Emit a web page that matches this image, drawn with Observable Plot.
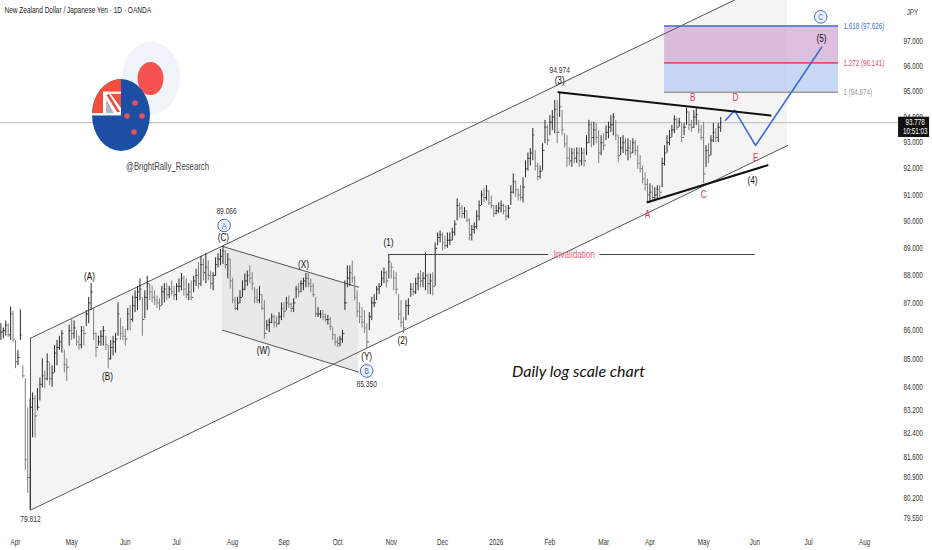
<!DOCTYPE html>
<html>
<head>
<meta charset="utf-8">
<script src="https://cdn.jsdelivr.net/npm/d3@7"></script>
<script src="https://cdn.jsdelivr.net/npm/@observablehq/plot@0.6"></script>
<style>html,body{margin:0;padding:0;background:#fff}svg{display:block}</style>
</head>
<body>
<div id="chart"></div>
<script>
const firstSession = -6;
const highs = [86.25,86.1,86.35,86.25,86.85,86.7,85.65,85.3,86.75,84.75,84.3,83.27,83.6,83.8,83.7,83.95,84.32,85.0,84.57,85.17,84.85,84.75,85.47,85.65,85.8,86.0,85.3,85.0,86.2,86.45,86.35,86.0,85.8,86.15,86.15,86.72,87.2,87.7,86.8,85.92,85.8,86.0,86.15,85.8,85.47,85.65,85.8,85.9,87.0,86.45,86.15,86.05,86.8,86.9,87.25,87.44,87.6,87.87,87.2,87.44,87.97,87.68,87.6,87.44,87.25,87.15,87.6,87.7,87.7,87.6,87.8,87.6,87.7,87.87,88.07,87.97,87.87,87.7,87.8,87.97,88.23,88.45,88.7,88.6,88.8,88.53,88.16,88.1,88.65,88.8,88.96,89.07,88.9,88.8,88.6,87.9,87.2,87.2,87.44,87.8,88.05,88.16,88.35,88.1,87.55,87.5,87.6,87.3,87.08,86.36,86.43,86.6,86.55,86.5,86.65,87.0,87.0,87.2,87.25,87.0,87.15,87.6,87.7,87.8,87.9,88.07,88.07,87.87,87.7,87.2,86.83,86.72,86.72,86.6,86.55,86.47,86.1,85.87,85.75,85.8,86.0,87.8,88.35,88.35,88.53,87.97,87.44,87.0,86.83,86.72,86.25,86.65,87.2,87.3,87.6,87.7,88.16,88.27,88.16,88.77,88.45,88.16,88.1,87.3,87.08,86.47,87.08,87.15,87.7,87.7,87.9,88.07,88.16,88.1,88.83,88.05,88.05,88.1,89.2,89.57,89.64,89.57,89.45,89.57,89.57,89.75,90.02,90.85,90.7,90.6,90.52,90.4,90.1,89.85,89.95,90.4,90.77,91.15,91.25,91.35,91.15,90.95,90.6,90.6,90.7,90.77,90.65,90.6,90.6,91.35,91.8,91.53,91.22,91.35,91.65,92.3,92.6,92.77,93.55,92.69,92.2,92.1,92.96,93.87,93.67,94.05,94.25,94.65,94.65,94.97,94.25,93.35,93.27,92.8,92.77,92.77,92.8,92.8,92.8,92.77,93.27,93.87,93.8,93.8,93.75,93.47,93.27,93.35,93.65,93.8,94.05,94.13,93.87,93.27,93.2,93.27,93.15,93.15,93.08,93.15,93.08,92.88,92.5,92.1,91.84,91.6,91.42,91.35,91.27,91.35,91.35,92.4,92.88,93.27,93.47,93.67,94.05,93.95,93.95,93.75,93.75,94.35,94.2,93.87,94.25,94.35,93.87,93.67,93.8,92.88,92.96,93.27,93.75,93.55,93.75,93.98];
const lows = [85.65,85.7,85.8,85.75,85.65,85.6,84.65,84.75,85.65,84.3,81.13,80.37,79.81,82.25,82.25,83.17,83.52,83.97,83.95,84.22,84.05,84.0,84.5,84.75,85.3,85.2,84.5,84.2,85.45,85.65,85.7,85.45,85.3,85.35,85.45,86.15,86.25,86.72,85.65,85.05,85.45,85.45,85.45,85.3,84.65,84.95,85.1,85.2,85.8,85.65,85.65,85.45,86.0,86.0,86.3,86.65,86.72,87.08,85.8,86.43,86.72,87.08,87.0,86.9,86.8,86.72,86.9,87.0,87.08,87.15,87.25,87.08,87.08,87.37,87.44,87.25,87.15,87.08,87.08,87.37,87.6,87.5,87.6,87.8,87.7,87.8,87.5,87.44,87.97,88.27,88.35,88.4,88.23,87.87,87.5,86.97,86.72,86.72,86.97,87.2,87.44,87.6,87.7,87.44,86.97,86.97,86.97,86.72,85.7,86.0,85.93,86.25,86.1,86.1,86.2,86.36,86.45,86.72,86.8,86.65,86.65,87.15,87.2,87.37,87.44,87.55,87.55,87.37,87.2,86.47,86.47,86.43,86.36,86.3,86.2,86.0,85.65,85.45,85.4,85.42,85.55,86.72,87.55,87.6,87.7,87.08,86.47,86.25,86.1,85.9,85.35,86.0,86.36,86.83,87.08,87.3,87.6,87.7,87.55,87.87,87.87,87.44,87.3,86.36,86.1,85.9,86.36,86.55,87.2,87.25,87.3,87.44,87.55,87.55,87.44,87.3,87.3,87.25,87.6,89.1,89.2,88.9,88.95,89.0,89.1,89.27,89.45,90.02,90.13,90.1,90.1,89.95,89.27,89.27,89.53,89.7,90.02,90.6,90.7,90.77,90.6,90.47,90.15,90.25,90.3,90.32,90.25,90.02,90.1,90.6,91.03,90.9,90.77,90.77,90.7,91.65,91.9,92.1,92.3,91.91,91.53,91.6,91.91,92.96,92.88,93.27,93.47,93.35,92.96,93.98,93.27,92.8,92.05,92.1,92.05,92.2,92.2,92.05,92.1,92.05,92.5,92.96,92.8,92.88,92.96,92.2,92.5,92.69,93.08,93.15,93.4,93.27,93.08,92.22,92.5,92.58,92.5,92.3,92.4,92.58,92.5,91.98,91.84,91.42,91.15,90.67,90.7,90.77,90.77,90.85,90.9,91.27,92.1,92.6,92.88,93.2,93.35,93.47,93.6,93.0,93.27,93.67,93.47,93.4,93.55,93.67,93.35,93.08,91.42,92.05,92.2,92.5,93.0,93.0,93.0,93.4];
const closes = [85.95,86.0,86.2,85.85,86.6,85.7,84.9,85.05,85.85,84.4,81.5,80.9,83.3,83.6,83.0,83.3,84.1,84.4,84.3,84.9,84.3,84.5,85.2,85.4,85.6,85.9,84.8,84.7,86.0,85.9,86.1,85.6,85.5,86.0,85.9,86.6,87.0,87.4,85.9,85.4,85.6,85.8,86.0,85.5,85.0,85.4,85.6,85.7,86.6,85.9,85.8,85.7,86.6,86.4,86.9,87.2,87.4,87.5,86.4,87.2,87.7,87.4,87.2,87.1,87.0,86.9,87.4,87.5,87.3,87.5,87.4,87.3,87.6,87.6,87.9,87.5,87.3,87.4,87.2,87.8,88.0,87.7,88.4,88.1,88.3,88.0,87.7,88.0,88.4,88.6,88.7,88.9,88.4,88.6,87.8,87.1,86.8,87.0,87.2,87.5,87.8,88.0,87.9,87.7,87.2,87.1,87.3,86.8,85.9,86.2,86.3,86.5,86.3,86.25,86.5,86.8,86.7,87.0,86.95,86.8,87.0,87.5,87.4,87.7,87.8,87.9,87.7,87.6,87.3,86.6,86.6,86.6,86.5,86.4,86.4,86.15,85.85,85.6,85.55,85.7,85.9,87.0,87.9,88.1,87.9,87.2,86.7,86.5,86.3,86.1,85.6,86.5,87.0,87.0,87.5,87.6,87.9,88.1,87.8,88.5,88.3,87.9,87.5,86.6,86.3,86.1,86.9,86.9,87.5,87.4,87.7,87.9,87.8,87.9,88.0,87.7,87.8,87.6,89.0,89.4,89.5,89.2,89.1,89.3,89.3,89.6,89.9,90.6,90.5,90.3,90.4,90.05,89.5,89.7,89.8,90.2,90.6,91.0,90.9,91.15,90.7,90.6,90.3,90.4,90.5,90.6,90.4,90.2,90.5,91.1,91.5,91.2,91.0,90.9,91.3,92.0,92.4,92.6,93.3,92.1,91.7,91.9,92.7,93.6,93.1,93.8,94.0,94.3,93.4,94.4,93.5,92.95,92.4,92.3,92.6,92.4,92.6,92.3,92.6,92.3,93.0,93.7,93.2,93.5,93.2,92.6,93.0,92.9,93.4,93.6,93.7,94.0,93.3,92.5,92.8,93.0,92.7,92.8,92.6,93.0,92.7,92.2,92.0,91.6,91.4,91.0,91.1,90.9,91.0,91.2,91.1,92.2,92.6,93.0,93.2,93.5,93.9,93.6,93.8,93.2,93.6,94.2,93.7,93.6,94.0,94.1,93.5,93.2,91.8,92.7,92.5,93.1,93.4,93.2,93.6,93.778];

const monthNames = ["Apr","May","Jun","Jul","Aug","Sep","Oct","Nov","Dec","2026","Feb","Mar","Apr","May","Jun","Jul","Aug"];
const monthSessions = [0,23,45,66,89,110,132,154,175,197,219,241,260,282,303,325,348];
const priceTicks = [97,96,95,94,93,92,91,90,89,88,87,86,85,84,83.2,82.4,81.6,80.9,80.2,79.55];

const channelSessions = [6.15,316.4];
const channelUpper = [85.73,99.74];
const channelLower = [79.81,92.89];
const corrSessions = [84.8,140.6];
const corrUpper = [89.07,87.57];
const corrLower = [86.02,84.53];
const invalidPrice = 88.77;
const invalidSegments = [[153,218.5],[239.5,303.2]];
const fibSessions = [266,337.3];
const fibLevels = [97.626,96.141,94.974];
const fibNames = ["1.618 (97.626)","1.272 (96.141)","1 (94.974)"];
const fibColors = ["#3f6fd6","#e0506a","#9a9a9a"];
const zigSessions = [291,294.7,303.3,330.3];
const zigPrices = [93.87,94.26,92.89,96.76];
const topLineS = [222.5,309.4], topLineP = [94.974,94.06];
const botLineS = [259,308.2], botLineP = [90.72,92.13];
const lastPrice = 93.778;

const blackLabels = ["(A)","(B)","(C)","(W)","(X)","(Y)","(1)","(2)","(3)","(4)","(5)"];
const blackS = [30.3,37.7,85.2,101.6,118,143.9,152.9,158.6,223,302,330.3];
const blackP = [87.97,84.36,89.42,85.3,88.4,85.07,89.2,85.65,95.44,91.53,97.12];
const valueLabels = ["79.812","89.066","85.350","94.974"];
const valueS = [6.15,86.5,143.9,223];
const valueP = [79.51,90.4,84.1,95.84];
const redLabels = ["A","B","C","D","E"];
const redS = [259,277.5,282,295,303.3];
const redP = [90.28,94.77,91.0,94.77,92.42];
const circleLabels = ["A","B","C"];
const circleS = [85.5,143.9,330];
const circleP = [89.85,84.57,98.0];

const SANS = "'Liberation Sans',sans-serif";
const bars = highs.map((h,i)=>({s:firstSession+i,h,l:lows[i],c:closes[i],o:i?closes[i-1]:closes[0]}));
const barColor = d => d.c>=d.o ? "#2a2a2a" : "#7f7f7f";
const rows = (...cols)=>cols[0].map((_,i)=>cols.map(c=>c[i]));

function logo(){
  const g = d3.create("svg:g");
  const defs = g.append("defs");
  defs.append("clipPath").attr("id","nzclip").append("ellipse").attr("cx",121).attr("cy",115).attr("rx",29).attr("ry",36);
  g.append("ellipse").attr("cx",151).attr("cy",78).attr("rx",29).attr("ry",36.5).attr("fill","#f0f3fa");
  g.append("ellipse").attr("cx",150.5).attr("cy",78.5).attr("rx",13).attr("ry",16.5).attr("fill","#f55250");
  const nz = g.append("g").attr("clip-path","url(#nzclip)");
  nz.append("rect").attr("x",90).attr("y",77).attr("width",62).attr("height",76).attr("fill","#1c4ea3");
  nz.append("rect").attr("x",90).attr("y",77).attr("width",31).attr("height",38).attr("fill","#f0503c");
  nz.append("rect").attr("x",90).attr("y",113).attr("width",31).attr("height",2.5).attr("fill","#f4f4f4");
  nz.append("rect").attr("x",103).attr("y",91.5).attr("width",18).attr("height",2.5).attr("fill","#fbe6e0");
  nz.append("rect").attr("x",103).attr("y",92).attr("width",3.5).attr("height",22).attr("fill","#fff");
  nz.append("path").attr("d","M103 94 L110 93 L121 108 L121 114 L114 114 Z").attr("fill","#fff");
  nz.append("path").attr("d","M106.5 95 L109 94 L120 112 L117 112 Z").attr("fill","#e6503c");
  nz.append("path").attr("d","M106.5 102 L106.5 113 L113.5 113 Z").attr("fill","#a9b9dc");
  [[135,103],[127,116],[142,116],[134,132]].forEach(([x,y])=>
    g.append("circle").attr("cx",x).attr("cy",y).attr("r",2.8).attr("fill","#e5505c"));
  return g.node();
}

const chart = Plot.plot({
  width:932, height:550,
  marginLeft:0, marginRight:31, marginTop:0, marginBottom:18,
  style:{fontFamily:SANS, background:"#fff", color:"#333"},
  x:{type:"linear", domain:[-6.15,363.1], label:null},
  y:{type:"log", domain:[79.07,98.67], label:null},
  marks:[
    Plot.areaY(rows(channelSessions,channelUpper,channelLower),{x:d=>d[0],y1:d=>d[2],y2:d=>d[1],fill:"#f4f4f4"}),
    Plot.areaY(rows(corrSessions,corrUpper,corrLower),{x:d=>d[0],y1:d=>d[2],y2:d=>d[1],fill:"#e9e9e9"}),
    Plot.rect([[fibLevels[0],fibLevels[1],"#d3abd3"],[fibLevels[1],fibLevels[2],"#b6cbf2"]],{x1:fibSessions[0],x2:fibSessions[1],y1:d=>d[0],y2:d=>d[1],fill:d=>d[2],fillOpacity:0.75}),
    Plot.ruleY([lastPrice],{x1:-6.15,x2:361.9,stroke:"#c6c6c6",strokeWidth:1.2}),
    logo,
    Plot.line(rows(channelSessions,channelUpper),{x:d=>d[0],y:d=>d[1],stroke:"#555",strokeWidth:1}),
    Plot.line(rows(channelSessions,channelLower),{x:d=>d[0],y:d=>d[1],stroke:"#555",strokeWidth:1}),
    Plot.ruleX([channelSessions[0]],{y1:channelLower[0],y2:channelUpper[0],stroke:"#555",strokeWidth:1}),
    Plot.line(rows(corrSessions,corrUpper),{x:d=>d[0],y:d=>d[1],stroke:"#555",strokeWidth:1}),
    Plot.line(rows(corrSessions,corrLower),{x:d=>d[0],y:d=>d[1],stroke:"#555",strokeWidth:1}),
    Plot.ruleX(bars,{x:"s",y1:"l",y2:"h",stroke:barColor,strokeWidth:1}),
    Plot.ruleY(bars,{y:"o",x1:d=>d.s-0.5,x2:"s",stroke:barColor,strokeWidth:0.9}),
    Plot.ruleY(bars,{y:"c",x1:"s",x2:d=>d.s+0.5,stroke:barColor,strokeWidth:0.9}),
    Plot.ruleY(invalidSegments,{y:invalidPrice,x1:d=>d[0],x2:d=>d[1],stroke:"#444",strokeWidth:1}),
    Plot.text(["Invalidation"],{x:229,y:invalidPrice,fill:"#e0637d",fontSize:11}),
    Plot.ruleY(fibLevels,{x1:fibSessions[0],x2:fibSessions[1],y:d=>d,stroke:(d,i)=>fibColors[i],strokeWidth:1.6}),
    Plot.text(fibNames,{x:339.3,y:(d,i)=>fibLevels[i],text:d=>d,fill:(d,i)=>fibColors[i],fontSize:8.5,textAnchor:"start"}),
    Plot.line(rows(zigSessions,zigPrices),{x:d=>d[0],y:d=>d[1],stroke:"#3f6fd0",strokeWidth:1.6}),
    Plot.line(rows(topLineS,topLineP),{x:d=>d[0],y:d=>d[1],stroke:"#111",strokeWidth:2}),
    Plot.line(rows(botLineS,botLineP),{x:d=>d[0],y:d=>d[1],stroke:"#111",strokeWidth:2}),
    Plot.text(blackLabels,{x:(d,i)=>blackS[i],y:(d,i)=>blackP[i],text:d=>d,fill:"#111",fontSize:11}),
    Plot.text(valueLabels,{x:(d,i)=>valueS[i],y:(d,i)=>valueP[i],text:d=>d,fill:"#333",fontSize:9}),
    Plot.text(redLabels,{x:(d,i)=>redS[i],y:(d,i)=>redP[i],text:d=>d,fill:"#d8375c",fontSize:11}),
    Plot.dot(circleLabels,{x:(d,i)=>circleS[i],y:(d,i)=>circleP[i],r:6.3,stroke:"#3f6fd6",fill:"#eef3fd",strokeWidth:1}),
    Plot.text(circleLabels,{x:(d,i)=>circleS[i],y:(d,i)=>circleP[i],text:d=>d,fill:"#3f6fd6",fontSize:9.5}),
    Plot.text(["@BrightRally_Research"],{x:62.3,y:92.07,fill:"#444",fontSize:10.5}),
    Plot.text(["Daily log scale chart"],{x:230.7,y:84.53,fill:"#111",fontSize:16,fontStyle:"italic",fontFamily:"Lato",className:"noSquash"}),
    Plot.text(["New Zealand Dollar / Japanese Yen · 1D · OANDA"],{frameAnchor:"top-left",dx:4,dy:6,fill:"#222",fontSize:8.8,textAnchor:"start"}),
    Plot.axisY({anchor:"right",ticks:priceTicks,tickFormat:d3.format(".3f"),tickSize:0,tickPadding:2,fontSize:8.5,label:null,textAnchor:"start",fill:"#333"}),
    Plot.axisX({anchor:"bottom",ticks:monthSessions,tickFormat:d=>monthNames[monthSessions.indexOf(d)],tickSize:0,tickPadding:6,fontSize:8.5,label:null,fill:"#333"}),
    Plot.text(["JPY"],{x:367.6,y:98.2,fill:"#444",fontSize:8.5}),
    Plot.rect([lastPrice],{x1:361.9,x2:374.6,y1:93.2,y2:93.99,fill:"#111"}),
    Plot.text(["93.778"],{x:368.7,y:93.8,fill:"#fff",fontSize:8.5}),
    Plot.text(["10:51:03"],{x:368.7,y:93.43,fill:"#fff",fontSize:8.5})
  ]
});
document.getElementById("chart").append(chart);
// The reference's lettering is horizontally condensed; no narrow face is installed.
chart.querySelectorAll("text").forEach(t=>{
  if (t.closest(".noSquash")) return;
  const len = t.getComputedTextLength();
  if (len>0){ t.setAttribute("textLength",(len*0.74).toFixed(1)); t.setAttribute("lengthAdjust","spacingAndGlyphs"); }
});
</script>
</body>
</html>
